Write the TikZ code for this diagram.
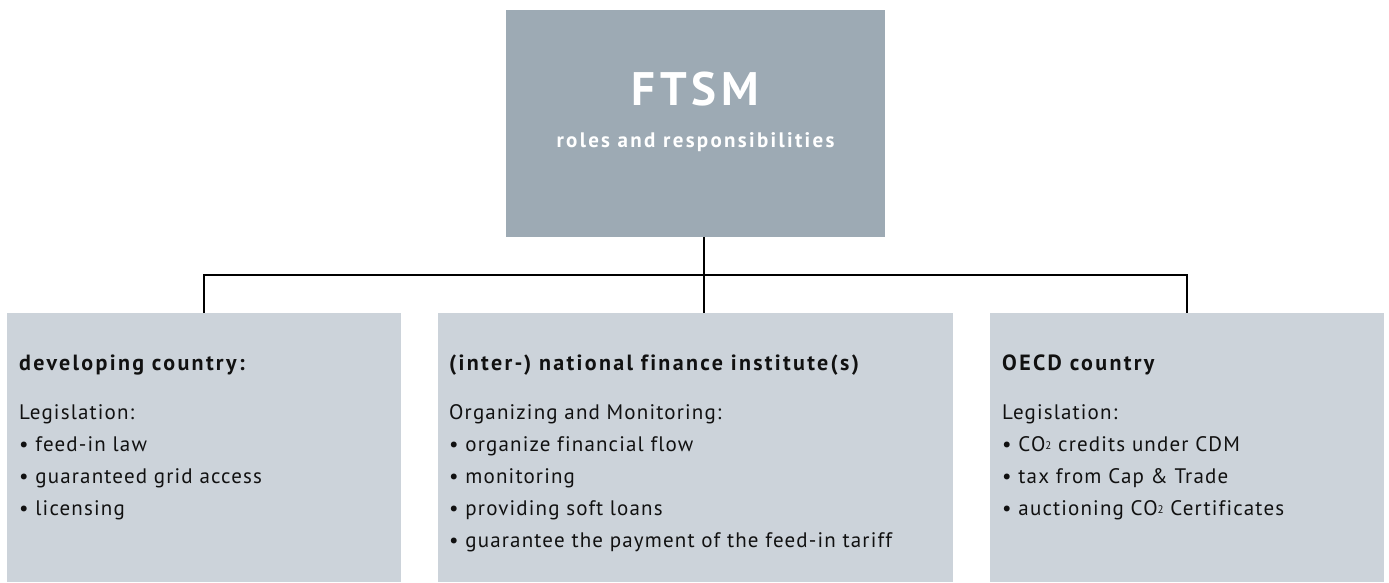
\documentclass[tikz,border=0pt]{standalone}
\usepackage{fontspec}
\setmainfont{PT Sans}[Ligatures=NoCommon]
\definecolor{topfill}{HTML}{9DAAB4}
\definecolor{boxfill}{HTML}{CCD3DA}
\definecolor{ink}{HTML}{111111}
\newcommand{\cotwo}{CO\raisebox{0.15ex}{\fontsize{11}{11}\selectfont 2}}
\tikzset{
  topbox/.style={fill=topfill, draw=none, minimum width=379pt, minimum height=227pt, inner sep=0pt},
  infobox/.style={fill=boxfill, draw=none, minimum height=269pt, inner sep=0pt},
  conn/.style={draw=black, line width=2pt},
  title/.style={text=white, inner sep=0pt, anchor=base, font=\addfontfeature{LetterSpace=10}\fontsize{47}{50}\selectfont\bfseries},
  subtitle/.style={text=white, inner sep=0pt, anchor=base, font=\addfontfeature{LetterSpace=11}\fontsize{21}{24}\selectfont\bfseries},
  heading/.style={text=ink, inner sep=0pt, anchor=base west, font=\addfontfeature{LetterSpace=10.5}\fontsize{22}{24}\selectfont\bfseries},
  body/.style={text=ink, inner sep=0pt, anchor=base west, font=\addfontfeature{LetterSpace=5.5}\fontsize{21}{24}\selectfont}
}
\begin{document}
\begin{tikzpicture}[x=1pt,y=-1pt]
\useasboundingbox (0,0) rectangle (1389,582);
\node[topbox] (top) at (695.5,123.5) {};
\node[title] (ftsm) at (695.5,105) {FTSM};
\node[subtitle] (roles) at (695.5,147) {roles and responsibilities};

\node[infobox, minimum width=394pt] (left) at (204,447.5) {};
\node[infobox, minimum width=515pt] (mid) at (695.5,447.5) {};
\node[infobox, minimum width=394pt] (right) at (1187,447.5) {};

\coordinate (jl) at (204,275);
\coordinate (jm) at (704,275);
\coordinate (jr) at (1187,275);
\draw[conn] (top.south -| jm) -- (mid.north -| jm);
\draw[conn] (left.north) -- (jl) -- (jr) -- (right.north);

\node[heading] (hl) at (19,370) {developing country:};
\foreach \t [count=\i] in {Legislation:, • feed-in law, • guaranteed grid access, • licensing}
  \node[body] (bl\i) at (19,{419+32*(\i-1)}) {\t};

\node[heading] (hm) at (449,370) {(inter-) national finance institute(s)};
\foreach \t [count=\i] in {Organizing and Monitoring:, • organize financial flow, • monitoring, • providing soft loans, • guarantee the payment of the feed-in tariff}
  \node[body] (bm\i) at (449,{419+32*(\i-1)}) {\t};

\node[heading] (hr) at (1002,370) {OECD country};
\foreach \t [count=\i] in {Legislation:, • \cotwo{} credits under CDM, • tax from Cap \& Trade, • auctioning \cotwo{} Certificates}
  \node[body] (br\i) at (1002,{419+32*(\i-1)}) {\t};
\end{tikzpicture}
\end{document}
